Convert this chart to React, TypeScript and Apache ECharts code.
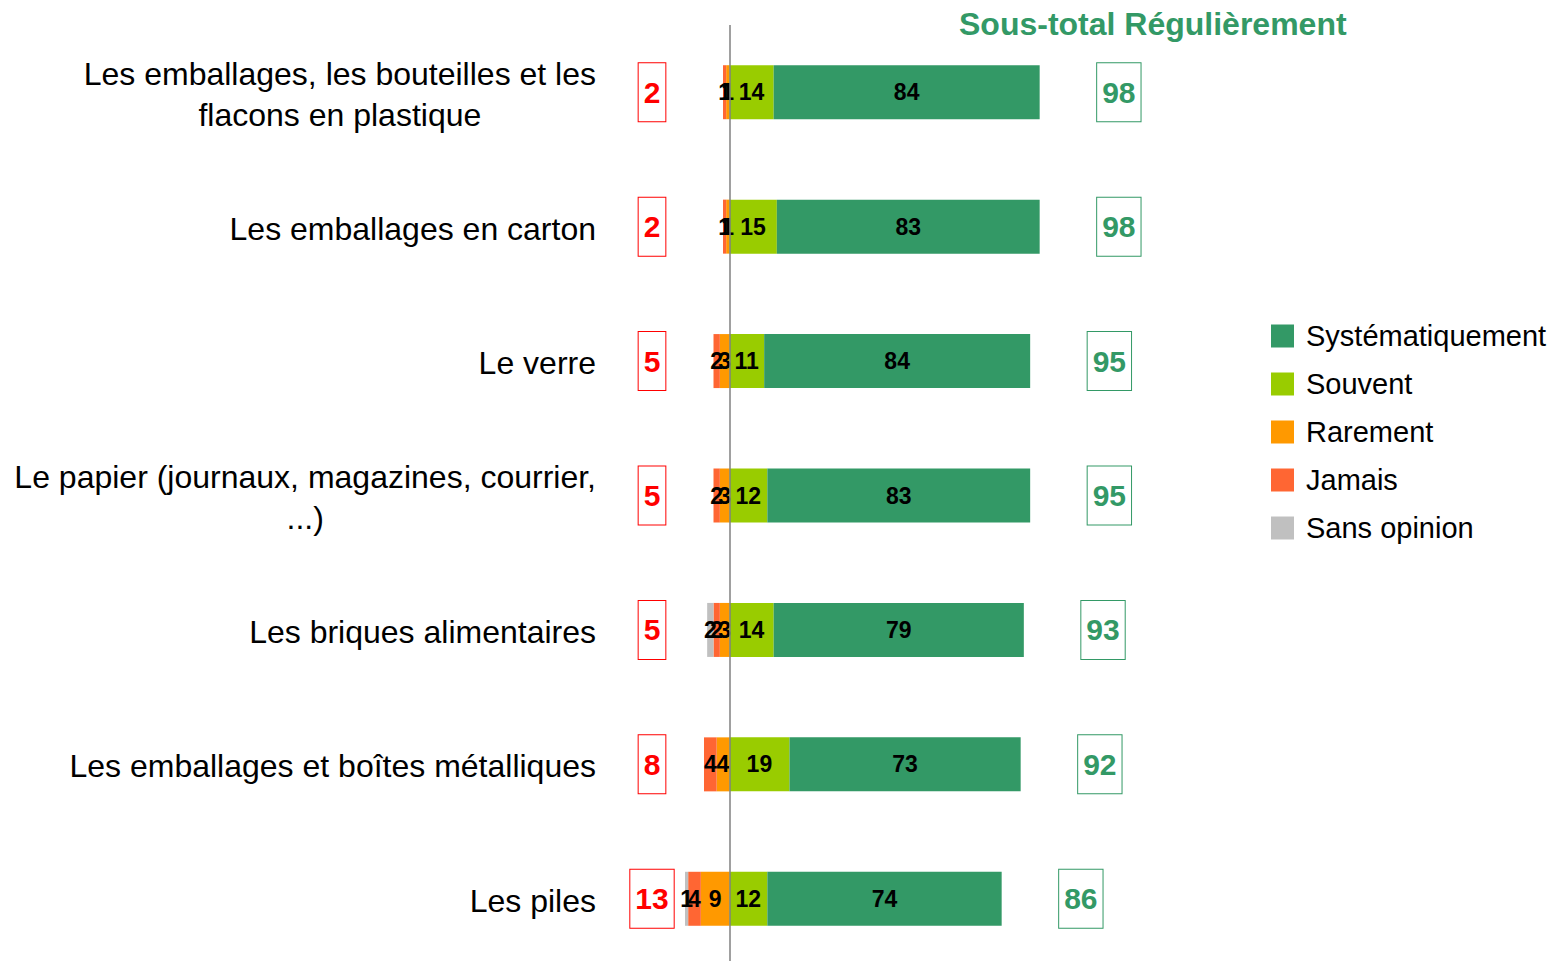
import React, { useEffect, useRef } from "react";
import * as echarts from "echarts";

const categories = [
  "Les emballages, les bouteilles et les\nflacons en plastique",
  "Les emballages en carton",
  "Le verre",
  "Le papier (journaux, magazines, courrier,\n...)",
  "Les briques alimentaires",
  "Les emballages et boîtes métalliques",
  "Les piles",
];
const systematiquement = [84, 83, 84, 83, 79, 73, 74];
const souvent = [14, 15, 11, 12, 14, 19, 12];
const rarement = [1, 1, 3, 3, 3, 4, 9];
const jamais = [1, 1, 2, 2, 2, 4, 4];
const sansOpinion = [0, 0, 0, 0, 2, 0, 1];
const totalRegulierement = [98, 98, 95, 95, 93, 92, 86];
const totalNegatif = [2, 2, 5, 5, 5, 8, 13];

const FONT = "'Liberation Sans', Arial, sans-serif";
const C_SYST = "#339966";
const C_SOUV = "#99CC00";
const C_RARE = "#FF9900";
const C_JAM = "#FF6633";
const C_SANS = "#C0C0C0";

export default function App() {
  const ref = useRef<HTMLDivElement>(null);
  useEffect(() => {
    if (!ref.current) return;
    const chart = echarts.init(ref.current, undefined, { renderer: "svg" });
    const barLabel = {
      show: true,
      position: "inside",
      color: "#000",
      fontSize: 23,
      fontWeight: "bold",
      fontFamily: FONT,
      formatter: (p: any) => (p.value === 0 ? "" : String(Math.abs(p.value))),
    };
    const mk = (name: string, data: number[], color: string, extra: any = {}) => ({
      name,
      type: "bar",
      stack: "a",
      barWidth: 54,
      data,
      itemStyle: { color },
      label: barLabel,
      emphasis: { disabled: true },
      ...extra,
    });
    chart.setOption({
      animation: false,
      textStyle: { fontFamily: FONT },
      title: {
        text: "Sous-total Régulièrement",
        left: 954,
        top: 3,
        textStyle: { color: C_SYST, fontSize: 32, fontWeight: "bold", fontFamily: FONT },
      },
      legend: {
        orient: "vertical",
        left: 1271,
        top: 321,
        padding: 0,
        itemWidth: 23,
        itemHeight: 23,
        itemGap: 18,
        icon: "rect",
        selectedMode: false,
        data: ["Systématiquement", "Souvent", "Rarement", "Jamais", "Sans opinion"],
        textStyle: { fontSize: 29, lineHeight: 30, color: "#000", fontFamily: FONT, padding: [0, 0, 0, 7] },
      },
      grid: { left: 666, width: 380, top: 25, height: 941, containLabel: false },
      xAxis: { type: "value", min: -20, max: 100, show: false },
      yAxis: [
        {
          type: "category",
          data: categories,
          inverse: true,
          position: "left",
          axisLine: { show: false },
          axisTick: { show: false },
          axisLabel: {
            margin: 70,
            padding: [4, 0, 0, 0],
            formatter: (v: string) =>
              v
                .split("\n")
                .map((l) => `{c|${l}}`)
                .join("\n"),
            rich: {
              c: { align: "center", fontSize: 32, lineHeight: 41, color: "#000", fontFamily: FONT },
            },
          },
        },
        {
          type: "category",
          data: categories,
          inverse: true,
          position: "left",
          axisLine: { show: false },
          axisTick: { show: false },
          axisLabel: {
            margin: 14,
            align: "center",
            formatter: (_v: string, i: number) => String(totalNegatif[i]),
            fontSize: 30,
            fontWeight: "bold",
            lineHeight: 30,
            color: "#FF0000",
            fontFamily: FONT,
            borderColor: "#FF0000",
            borderWidth: 1,
            padding: [14, 5, 14, 5],
            backgroundColor: "#fff",
          },
        },
      ],
      series: [
        mk("Souvent", souvent, C_SOUV, {
          markLine: {
            silent: true,
            symbol: ["none", "none"],
            label: { show: false },
            lineStyle: { color: "#808080", width: 1.5, type: "solid" },
            data: [{ xAxis: 0 }],
          },
        }),
        mk("Systématiquement", systematiquement, C_SYST),
        mk("Rarement", rarement.map((v) => -v), C_RARE),
        mk("Jamais", jamais.map((v) => -v), C_JAM),
        mk("Sans opinion", sansOpinion.map((v) => -v), C_SANS),
        {
          name: "total",
          type: "scatter",
          symbolSize: 1,
          itemStyle: { color: "rgba(0,0,0,0)", opacity: 1 },
          data: totalRegulierement.map((t, i) => [t, i]),
          z: 5,
          emphasis: { disabled: true },
          label: {
            show: true,
            position: "right",
            distance: 57,
            formatter: (p: any) => String(p.value[0]),
            fontSize: 30,
            fontWeight: "bold",
            lineHeight: 30,
            color: C_SYST,
            fontFamily: FONT,
            borderColor: C_SYST,
            borderWidth: 1,
            padding: [14, 5, 14, 5],
            backgroundColor: "#fff",
          },
        },
      ],
    });
    return () => chart.dispose();
  }, []);
  return (
    <div
      ref={ref}
      style={{ position: "fixed", left: 0, top: 0, width: 1552, height: 980, background: "#fff" }}
    />
  );
}
